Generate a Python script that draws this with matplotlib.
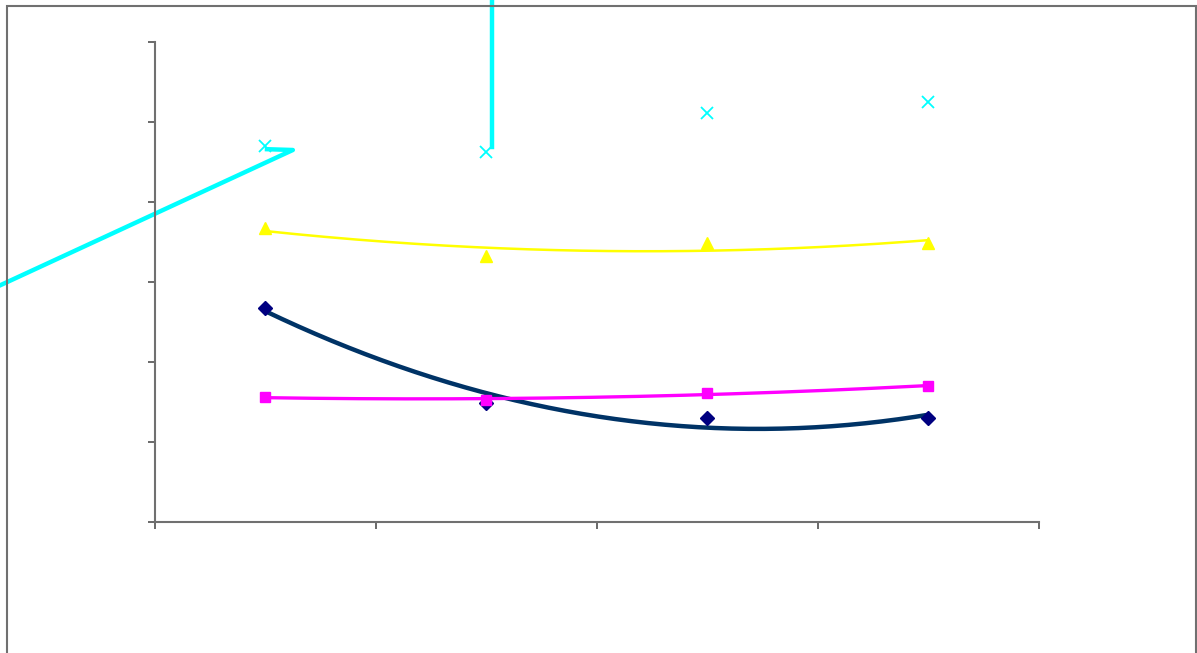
import numpy as np
import matplotlib
matplotlib.use("Agg")
from matplotlib import pyplot as plt
from matplotlib.patches import Rectangle

# category positions (4 categories, axis spans 0..4)
xcat = [0.5, 1.5, 2.5, 3.5]

# series values
navy = [2.675, 1.49, 1.30, 1.30]
magenta = [1.56, 1.525, 1.61, 1.70]
yellow = [3.67, 3.33, 3.49, 3.49]
cyan = [4.70, 4.625, 5.11, 5.25]

# the broken cyan trend line, as it appears in the picture
cyan_tr_x1 = [-0.70, 0.624, 0.507]
cyan_tr_y1 = [2.96, 4.65, 4.66]
cyan_tr_x2 = [1.525, 1.525]
cyan_tr_y2 = [4.69, 7.0]

fig = plt.figure(figsize=(11.97, 6.53), dpi=100)
ax = fig.add_axes([155/1197, 1 - 522/653, (1038.5 - 155)/1197, (522 - 42)/653])

# outer chart frame
fig.patches.append(Rectangle((7/1197, -0.2), (1196 - 7)/1197, 1.2 - 4/653 - 0.003,
                             transform=fig.transFigure, fill=False,
                             edgecolor='#707070', linewidth=1.5, zorder=0))

# polynomial (order 2) trend lines
xs = np.linspace(0.5, 3.5, 200)
for vals, col, lw in [(navy, '#003366', 3.2), (magenta, '#FF00FF', 2.4),
                      (yellow, '#FFFF00', 1.8)]:
    p = np.polyfit(xcat, vals, 2)
    ax.plot(xs, np.polyval(p, xs), color=col, lw=lw, zorder=2)

ax.plot(cyan_tr_x1, cyan_tr_y1, color='#00FFFF', lw=3.2, clip_on=False, zorder=2)
ax.plot(cyan_tr_x2, cyan_tr_y2, color='#00FFFF', lw=3.2, clip_on=False, zorder=2)

ax.plot(xcat, navy, 'D', color='#000080', ms=7, ls='none', zorder=3)
ax.plot(xcat, magenta, 's', color='#FF00FF', ms=7, ls='none', zorder=3)
ax.plot(xcat, yellow, '^', color='#FFFF00', ms=9, ls='none', zorder=3)
ax.plot(xcat, cyan, 'x', color='#00FFFF', ms=9, mew=1.3, ls='none', zorder=3)

ax.set_xlim(0, 4)
ax.set_ylim(0, 6)
ax.set_xticks([0, 1, 2, 3, 4])
ax.set_yticks([0, 1, 2, 3, 4, 5, 6])
ax.set_xticklabels([])
ax.set_yticklabels([])
ax.tick_params(direction='out', length=5, width=1.2, color='#505050')
for s in ['top', 'right']:
    ax.spines[s].set_visible(False)
for s in ['left', 'bottom']:
    ax.spines[s].set_color('#707070')
    ax.spines[s].set_linewidth(1.5)

fig.savefig('out.png', dpi=100)
